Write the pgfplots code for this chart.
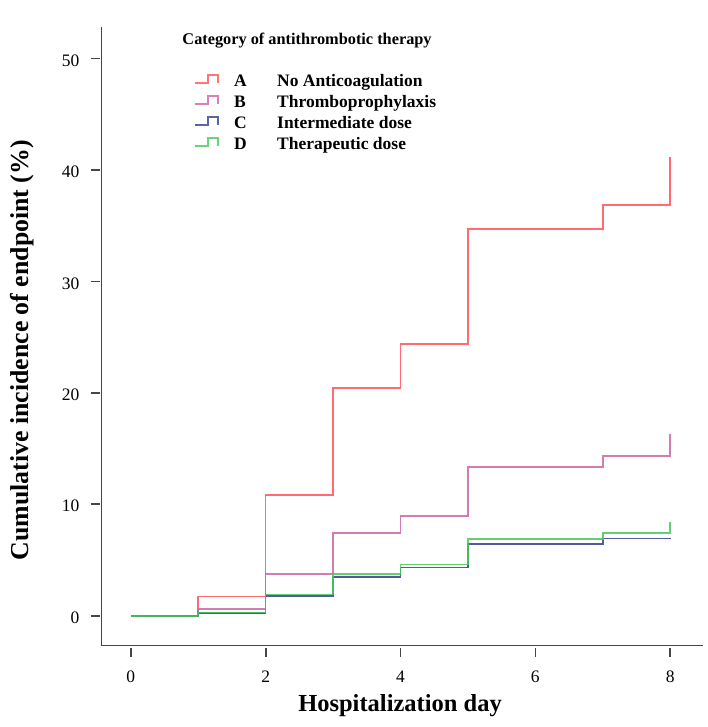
\documentclass[border=0pt]{standalone}
\usepackage{fontspec}
\setmainfont{Liberation Serif}
\usepackage{pgfplots}
\pgfplotsset{compat=1.18}
\definecolor{cA}{RGB}{255,80,90}
\definecolor{cB}{RGB}{205,100,165}
\definecolor{cC}{RGB}{55,60,140}
\definecolor{cD}{RGB}{70,200,90}
\definecolor{axgray}{RGB}{70,70,70}
\begin{document}
\begin{tikzpicture}
\useasboundingbox (0,0) rectangle (708bp,-727bp);
\begin{axis}[
  at={(101bp,-645.7bp)}, anchor=south west,
  width=601.7bp, height=618.4bp, scale only axis,
  xmin=-0.442, xmax=8.482, ymin=-2.69, ymax=52.8,
  axis x line*=bottom, axis y line*=left,
  axis line style={axgray, line width=0.9bp, -},
  xtick={0,2,4,6,8}, ytick={0,10,20,30,40,50},
  tick align=outside, major tick length=9bp,
  tick style={line width=1.7bp, color=axgray},
  xtick style={yshift=-2bp}, ytick style={xshift=-1bp},
  /pgf/number format/assume math mode=true,
  ticklabel style={font=\fontsize{17.5bp}{20bp}\selectfont, inner sep=0pt, text height=12bp, text depth=0pt},
  xticklabel style={yshift=-16bp},
  yticklabel style={xshift=-12.5bp, yshift=-1.7bp},
  xlabel={Hospitalization day},
  xlabel style={at={(axis description cs:0.497,-0.1072)}, anchor=base, inner sep=0pt, font=\bfseries\fontsize{24.5bp}{28bp}\selectfont},
  ylabel={Cumulative incidence of endpoint (\%)},
  ylabel style={at={(axis description cs:-0.1197,0.478)}, anchor=base, inner sep=0pt, font=\bfseries\fontsize{25.8bp}{28bp}\selectfont},
  legend style={at={(axis description cs:0.1546,0.9253)}, anchor=north west, draw=none, fill=none, inner sep=0pt, row sep=4.5bp,
    font=\bfseries\fontsize{17.5bp}{21bp}\selectfont,
    nodes={inner sep=0pt, text height=12.5bp, text depth=4bp},
    /tikz/every odd column/.append style={column sep=15.3bp}},
  legend cell align=left,
  legend image code/.code={\draw[#1, line width=2bp, opacity=0.8] (0bp,-1.5bp) -- (12.7bp,-1.5bp) -- (12.7bp,6.5bp) -- (22.7bp,6.5bp) -- (22.7bp,-1.5bp);},
]
\addplot[const plot, color=cA, line width=1.6bp, opacity=0.85] coordinates {(0,0) (1,1.71) (2,10.83) (3,20.41) (4,24.39) (5,34.71) (7,36.87) (8,41.15)};
\addlegendentry{\makebox[43bp][l]{A}No Anticoagulation}
\addplot[const plot, color=cB, line width=1.6bp, opacity=0.85] coordinates {(0,0) (1,0.63) (2,3.75) (3,7.42) (4,8.97) (5,13.33) (7,14.34) (8,16.35)};
\addlegendentry{\makebox[43bp][l]{B}Thromboprophylaxis}
\addplot[const plot, color=cC, line width=1.6bp, opacity=0.85] coordinates {(0,0) (1,0.27) (2,1.77) (3,3.5) (4,4.31) (5,6.44) (7,6.92) (8,7.0)};
\addlegendentry{\makebox[43bp][l]{C}Intermediate dose}
\addplot[const plot, color=cD, line width=1.6bp, opacity=0.85] coordinates {(0,0) (1,0.3) (2,1.9) (3,3.77) (4,4.58) (5,6.88) (7,7.45) (8,8.44)};
\addlegendentry{\makebox[43bp][l]{D}Therapeutic dose}
\node[anchor=base west, inner sep=0pt, font=\bfseries\fontsize{16.3bp}{19bp}\selectfont] at (axis description cs:0.1351,0.9714) {Category of antithrombotic therapy};
\end{axis}
\end{tikzpicture}
\end{document}
